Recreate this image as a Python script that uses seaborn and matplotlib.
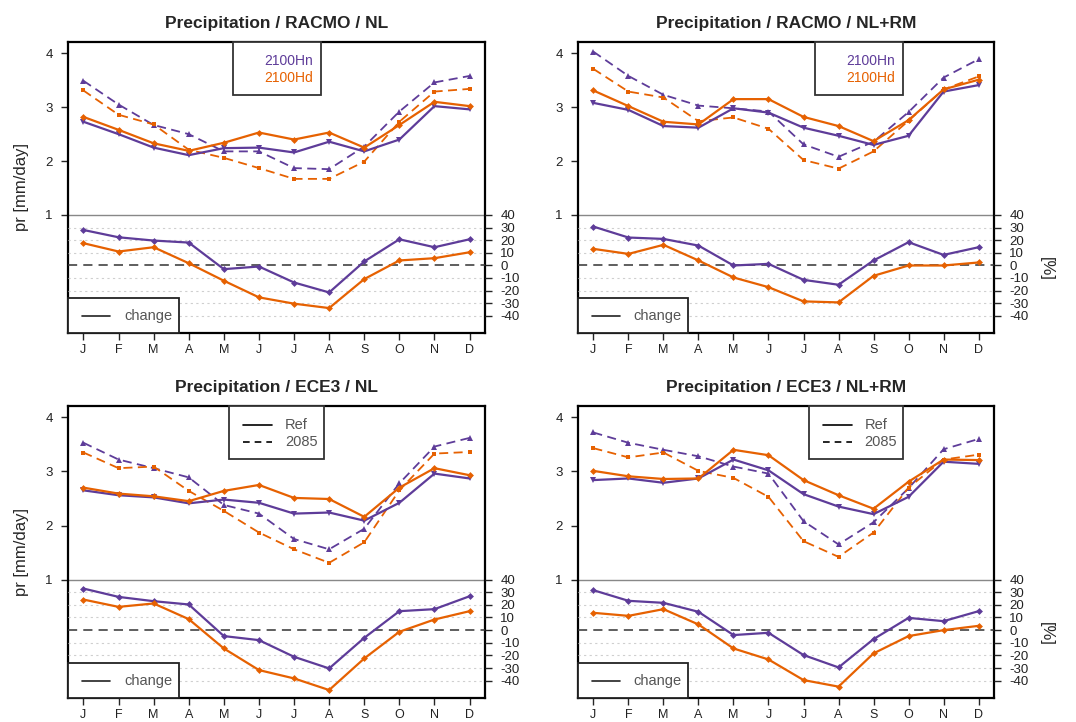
import numpy as np
import pandas as pd
import matplotlib
matplotlib.use("Agg")
import matplotlib.pyplot as plt
import seaborn as sns
from matplotlib.lines import Line2D
from matplotlib.patches import Rectangle

sns.set_theme(style="white")
plt.rcParams["font.family"] = ["Liberation Sans", "DejaVu Sans"]

months = ["J", "F", "M", "A", "M", "J", "J", "A", "S", "O", "N", "D"]
PURPLE = "#5E3C99"
ORANGE = "#E66101"

titles = ["Precipitation / RACMO / NL", "Precipitation / RACMO / NL+RM",
          "Precipitation / ECE3 / NL", "Precipitation / ECE3 / NL+RM"]

# --- RACMO / NL ---
racmo_nl_purple_ref = [2.73, 2.50, 2.25, 2.11, 2.24, 2.25, 2.16, 2.36, 2.18, 2.40, 3.02, 2.96]
racmo_nl_orange_ref = [2.82, 2.58, 2.33, 2.19, 2.34, 2.53, 2.40, 2.53, 2.25, 2.67, 3.10, 3.02]
racmo_nl_purple_fut = [3.49, 3.05, 2.67, 2.50, 2.18, 2.18, 1.87, 1.85, 2.27, 2.92, 3.46, 3.58]
racmo_nl_orange_fut = [3.31, 2.86, 2.68, 2.21, 2.06, 1.87, 1.67, 1.67, 1.99, 2.73, 3.29, 3.34]
racmo_nl_purple_chg = [28.1, 22.3, 19.7, 18.1, -3.0, -0.9, -13.6, -21.5, 3.1, 20.7, 14.4, 20.7]
racmo_nl_orange_chg = [17.6, 11.0, 14.4, 1.7, -12.2, -25.4, -30.4, -33.9, -10.9, 3.9, 5.7, 10.4]

# --- RACMO / NL+RM ---
racmo_rm_purple_ref = [3.08, 2.95, 2.65, 2.62, 2.98, 2.90, 2.62, 2.47, 2.30, 2.47, 3.29, 3.41]
racmo_rm_orange_ref = [3.31, 3.02, 2.73, 2.68, 3.15, 3.15, 2.82, 2.65, 2.37, 2.76, 3.33, 3.51]
racmo_rm_purple_fut = [4.03, 3.58, 3.23, 3.03, 2.98, 2.92, 2.31, 2.08, 2.36, 2.91, 3.55, 3.89]
racmo_rm_orange_fut = [3.71, 3.29, 3.18, 2.74, 2.81, 2.60, 2.02, 1.86, 2.18, 2.75, 3.33, 3.57]
racmo_rm_purple_chg = [30.8, 22.1, 21.0, 15.7, -0.1, 1.2, -11.5, -15.4, 3.9, 18.4, 8.3, 14.4]
racmo_rm_orange_chg = [13.1, 9.1, 16.3, 3.9, -9.6, -17.3, -28.6, -29.4, -8.3, -0.1, -0.1, 2.3]

# --- ECE3 / NL ---
ece3_nl_purple_ref = [2.65, 2.56, 2.52, 2.41, 2.48, 2.42, 2.22, 2.24, 2.09, 2.42, 2.96, 2.87]
ece3_nl_orange_ref = [2.70, 2.59, 2.54, 2.45, 2.64, 2.75, 2.51, 2.49, 2.16, 2.70, 3.06, 2.93]
ece3_nl_purple_fut = [3.53, 3.22, 3.06, 2.89, 2.38, 2.22, 1.75, 1.56, 1.94, 2.78, 3.46, 3.62]
ece3_nl_orange_fut = [3.35, 3.06, 3.09, 2.64, 2.27, 1.87, 1.56, 1.31, 1.69, 2.65, 3.33, 3.36]
ece3_nl_purple_chg = [32.9, 26.3, 22.9, 20.3, -4.7, -7.9, -21.1, -30.3, -6.1, 15.0, 16.6, 26.8]
ece3_nl_orange_chg = [24.2, 18.4, 21.1, 8.7, -14.5, -31.6, -38.2, -47.4, -22.4, -1.3, 8.4, 15.0]

# --- ECE3 / NL+RM ---
ece3_rm_purple_ref = [2.84, 2.87, 2.79, 2.87, 3.22, 3.02, 2.58, 2.35, 2.21, 2.53, 3.18, 3.14]
ece3_rm_orange_ref = [3.01, 2.91, 2.86, 2.87, 3.40, 3.30, 2.84, 2.56, 2.31, 2.81, 3.22, 3.21]
ece3_rm_purple_fut = [3.72, 3.53, 3.40, 3.28, 3.09, 2.96, 2.08, 1.65, 2.06, 2.69, 3.41, 3.60]
ece3_rm_orange_fut = [3.43, 3.26, 3.35, 3.01, 2.88, 2.53, 1.71, 1.42, 1.87, 2.70, 3.22, 3.31]
ece3_rm_purple_chg = [31.6, 23.2, 21.6, 14.5, -3.9, -2.1, -19.7, -29.5, -7.1, 9.7, 7.1, 15.0]
ece3_rm_orange_chg = [13.7, 11.3, 16.6, 4.5, -14.5, -23.2, -39.5, -44.7, -18.4, -4.7, 0.0, 3.4]

legend_a_labels = ["2100Hn", "2100Hd"]
legend_b_labels = ["Ref", "2085"]
change_label = "change"
pr_ticks = [1, 2, 3, 4]
pct_ticks = [40, 30, 20, 10, 0, -10, -20, -30, -40]

panels = [
    (racmo_nl_purple_ref, racmo_nl_orange_ref, racmo_nl_purple_fut, racmo_nl_orange_fut,
     racmo_nl_purple_chg, racmo_nl_orange_chg),
    (racmo_rm_purple_ref, racmo_rm_orange_ref, racmo_rm_purple_fut, racmo_rm_orange_fut,
     racmo_rm_purple_chg, racmo_rm_orange_chg),
    (ece3_nl_purple_ref, ece3_nl_orange_ref, ece3_nl_purple_fut, ece3_nl_orange_fut,
     ece3_nl_purple_chg, ece3_nl_orange_chg),
    (ece3_rm_purple_ref, ece3_rm_orange_ref, ece3_rm_purple_fut, ece3_rm_orange_fut,
     ece3_rm_purple_chg, ece3_rm_orange_chg),
]

W, H = 1076, 722
fig = plt.figure(figsize=(W / 100, H / 100), dpi=100)
fig.patch.set_facecolor("white")

# axes boxes in pixels: (left, top, right, bottom)
boxes = [(68, 42, 485, 333), (578, 42, 994, 333), (68, 406, 485, 698), (578, 406, 994, 698)]
legend_boxes = [(0.396, 0.607), (0.570, 0.781), (0.386, 0.614), (0.555, 0.781)]
change_box_right = [0.266, 0.264, 0.266, 0.264]

YLIM = (-1.19, 4.21)
slope = 80.0 / 1.87  # percent per pr unit


def pr2pct(y):
    return 40 + (y - 1) * slope


x = np.arange(1, 13)
for i, (data, box) in enumerate(zip(panels, boxes)):
    l, t, r, b = box
    ax = fig.add_axes([l / W, 1 - b / H, (r - l) / W, (b - t) / H])
    ax.set_facecolor("white")
    p_ref, o_ref, p_fut, o_fut, p_chg, o_chg = data
    ax.set_xlim(1 - 0.44, 12 + 0.44)
    ax.set_ylim(*YLIM)

    ax.axhline(1, color="#888888", lw=1.0, zorder=1)

    sns.lineplot(x=x, y=p_fut, ax=ax, color=PURPLE, lw=1.3, marker="^", markersize=4,
                 markeredgewidth=0, zorder=3).lines[-1].set_dashes([5, 3])
    sns.lineplot(x=x, y=o_fut, ax=ax, color=ORANGE, lw=1.3, marker="s", markersize=3.5,
                 markeredgewidth=0, zorder=3).lines[-1].set_dashes([5, 3])
    sns.lineplot(x=x, y=p_ref, ax=ax, color=PURPLE, lw=1.6, marker="v", markersize=4,
                 markeredgewidth=0, zorder=4)
    sns.lineplot(x=x, y=o_ref, ax=ax, color=ORANGE, lw=1.6, marker="D", markersize=3.5,
                 markeredgewidth=0, zorder=4)

    ax2 = ax.twinx()
    ax2.set_ylim(pr2pct(YLIM[0]), pr2pct(YLIM[1]))
    for g in [30, 20, 10, -10, -20, -30, -40]:
        ax2.axhline(g, color="#cfcfcf", lw=0.8, ls=(0, (2, 3)), zorder=1)
    ax2.axhline(0, color="#333333", lw=1.1, ls=(0, (6, 4)), zorder=2)
    sns.lineplot(x=x, y=p_chg, ax=ax2, color=PURPLE, lw=1.6, marker="D", markersize=3.5,
                 markeredgewidth=0, zorder=4)
    sns.lineplot(x=x, y=o_chg, ax=ax2, color=ORANGE, lw=1.6, marker="D", markersize=3.5,
                 markeredgewidth=0, zorder=4)
    ax2.set_yticks(pct_ticks)
    ax2.set_yticklabels([str(v) for v in pct_ticks], fontsize=9.5, color="#222222")
    ax2.tick_params(axis="y", direction="out", length=5, width=1, pad=6, right=True, labelright=True)
    for s in ax2.spines.values():
        s.set_visible(False)

    ax.set_yticks(pr_ticks)
    ax.set_yticklabels([str(v) for v in pr_ticks], fontsize=9.5, color="#222222")
    ax.set_xticks(x)
    ax.set_xticklabels(months, fontsize=9, color="#222222")
    ax.tick_params(axis="y", direction="out", length=5, width=1, pad=6, left=True)
    ax.tick_params(axis="x", direction="out", length=5, width=1, pad=3, bottom=True)
    for s in ax.spines.values():
        s.set_color("black")
        s.set_linewidth(1.6)
    ax.set_xlabel("")
    ax.set_title(titles[i], fontsize=12.5, fontweight="bold", pad=10)
    if i % 2 == 0:
        ax.set_ylabel("pr [mm/day]", fontsize=12, labelpad=12)
    else:
        ax2.set_ylabel("[%]", fontsize=12, rotation=270, labelpad=16)
        ax2.yaxis.set_label_coords(1.145, 0.22)

    # top legend box
    x0, x1 = legend_boxes[i]
    ax.add_patch(Rectangle((x0, 0.818), x1 - x0, 0.182, transform=ax.transAxes,
                           facecolor="white", edgecolor="#333333", lw=1.3, zorder=6,
                           clip_on=False))
    if i < 2:
        ax.text(x1 - 0.02, 0.935, legend_a_labels[0], transform=ax.transAxes, ha="right",
                va="center", color=PURPLE, fontsize=10, zorder=7)
        ax.text(x1 - 0.02, 0.878, legend_a_labels[1], transform=ax.transAxes, ha="right",
                va="center", color=ORANGE, fontsize=10, zorder=7)
    else:
        lx0 = x0 + 0.034
        ax.add_line(Line2D([lx0, lx0 + 0.07], [0.935, 0.935], transform=ax.transAxes,
                           color="black", lw=1.2, zorder=7))
        ax.add_line(Line2D([lx0, lx0 + 0.07], [0.878, 0.878], transform=ax.transAxes,
                           color="black", lw=1.2, ls=(0, (4, 3)), zorder=7))
        ax.text(lx0 + 0.1, 0.935, legend_b_labels[0], transform=ax.transAxes, ha="left",
                va="center", color="#555555", fontsize=10.5, zorder=7)
        ax.text(lx0 + 0.1, 0.878, legend_b_labels[1], transform=ax.transAxes, ha="left",
                va="center", color="#555555", fontsize=10.5, zorder=7)

    # change legend box
    cr = change_box_right[i]
    ax2.add_patch(Rectangle((0, 0), cr, 0.121, transform=ax.transAxes,
                            facecolor="white", edgecolor="#222222", lw=1.3, zorder=6,
                            clip_on=False))
    ax2.add_line(Line2D([0.033, 0.101], [0.058, 0.058], transform=ax.transAxes,
                        color="#222222", lw=1.2, zorder=7))
    ax2.text(0.134, 0.058, change_label, transform=ax.transAxes, ha="left", va="center",
             color="#555555", fontsize=10.5, zorder=7)

fig.savefig("out.png", dpi=100, facecolor="white")
